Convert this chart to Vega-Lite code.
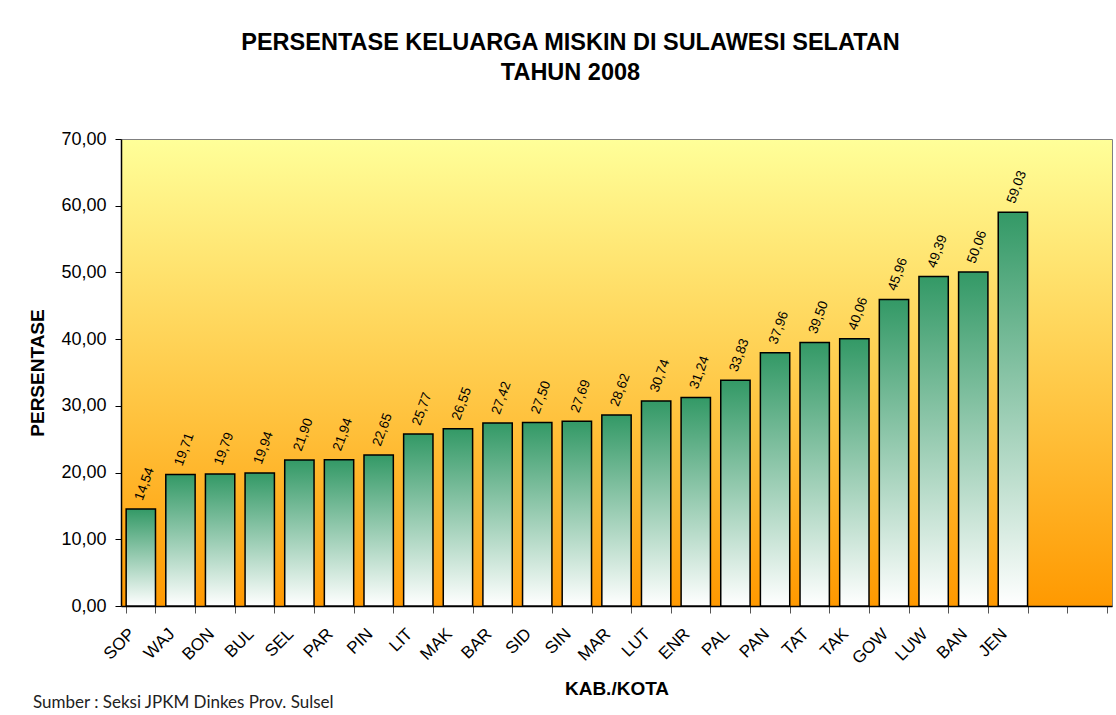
{
  "$schema": "https://vega.github.io/schema/vega-lite/v6.json",
  "padding": {"left": 28, "top": 31, "right": 4, "bottom": 2},
  "background": "white",
  "title": {
    "text": ["PERSENTASE KELUARGA MISKIN DI SULAWESI SELATAN", "TAHUN 2008"],
    "font": "Liberation Sans", "fontSize": 23.5, "fontWeight": "bold", "color": "black",
    "lineHeight": 30, "anchor": "middle", "frame": "bounds", "offset": 45
  },
  "config": {
    "locale": {"number": {"decimal": ",", "thousands": ".", "grouping": [3], "currency": ["", ""]}},
    "view": {"stroke": "#808080"},
    "font": "Liberation Sans"
  },
  "vconcat": [
    {
      "width": 991,
      "height": 467,
      "view": {
        "stroke": "#808080",
        "fill": {"gradient": "linear", "x1": 0, "y1": 0, "x2": 0, "y2": 1,
          "stops": [{"offset": 0, "color": "#FFFF99"}, {"offset": 1, "color": "#FF9900"}]}
      },
      "title": {
        "text": "Sumber : Seksi JPKM Dinkes  Prov. Sulsel",
        "orient": "bottom", "anchor": "start", "frame": "bounds",
        "font": "Lato", "fontSize": 17, "fontWeight": "normal", "color": "#222222", "offset": -4, "dx": 4
      },
      "data": {
        "values": [
          {"kab": "SOP", "pct": 14.54},
          {"kab": "WAJ", "pct": 19.71},
          {"kab": "BON", "pct": 19.79},
          {"kab": "BUL", "pct": 19.94},
          {"kab": "SEL", "pct": 21.90},
          {"kab": "PAR", "pct": 21.94},
          {"kab": "PIN", "pct": 22.65},
          {"kab": "LIT", "pct": 25.77},
          {"kab": "MAK", "pct": 26.55},
          {"kab": "BAR", "pct": 27.42},
          {"kab": "SID", "pct": 27.50},
          {"kab": "SIN", "pct": 27.69},
          {"kab": "MAR", "pct": 28.62},
          {"kab": "LUT", "pct": 30.74},
          {"kab": "ENR", "pct": 31.24},
          {"kab": "PAL", "pct": 33.83},
          {"kab": "PAN", "pct": 37.96},
          {"kab": "TAT", "pct": 39.50},
          {"kab": "TAK", "pct": 40.06},
          {"kab": "GOW", "pct": 45.96},
          {"kab": "LUW", "pct": 49.39},
          {"kab": "BAN", "pct": 50.06},
          {"kab": "JEN", "pct": 59.03}
        ]
      },
      "encoding": {
        "x": {
          "field": "kab", "type": "nominal", "sort": null,
          "scale": {
            "domain": ["SOP","WAJ","BON","BUL","SEL","PAR","PIN","LIT","MAK","BAR","SID","SIN","MAR","LUT","ENR","PAL","PAN","TAT","TAK","GOW","LUW","BAN","JEN"," ","  "],
            "paddingInner": 0.26, "paddingOuter": 0.13
          },
          "axis": {
            "title": "KAB./KOTA", "titleFont": "Liberation Sans", "titleFontSize": 19, "titleFontWeight": "bold",
            "titleColor": "black", "titlePadding": 13,
            "labelAngle": -45, "labelAlign": "right", "labelBaseline": "middle",
            "labelFontSize": 17, "labelColor": "black", "labelPadding": 18, "labelOffset": -9,
            "tickBand": "extent", "tickSize": 7, "tickColor": "#555555",
            "domainColor": "black", "domainWidth": 1.5
          }
        },
        "y": {
          "field": "pct", "type": "quantitative",
          "scale": {"domain": [0, 70]},
          "axis": {
            "title": "PERSENTASE", "titleFont": "Liberation Sans", "titleFontSize": 19, "titleFontWeight": "bold",
            "titleColor": "black", "titlePadding": 13,
            "values": [0, 10, 20, 30, 40, 50, 60, 70], "format": ".2f", "grid": false,
            "labelFontSize": 18, "labelColor": "black", "labelPadding": 9,
            "tickSize": 6, "tickColor": "black", "domainColor": "black", "domainWidth": 1.5
          }
        }
      },
      "layer": [
        {
          "mark": {
            "type": "bar", "stroke": "black", "strokeWidth": 1.5,
            "fill": {"gradient": "linear", "x1": 0, "y1": 0, "x2": 0, "y2": 1,
              "stops": [{"offset": 0, "color": "#339966"}, {"offset": 1, "color": "#FFFFFF"}]}
          }
        },
        {
          "mark": {
            "type": "text", "angle": 290, "align": "left", "baseline": "middle",
            "dx": 8, "dy": -5, "fontSize": 13.5, "font": "Liberation Sans", "color": "black"
          },
          "encoding": {
            "text": {"field": "pct", "type": "quantitative", "format": ".2f"}
          }
        }
      ]
    }
  ]
}
